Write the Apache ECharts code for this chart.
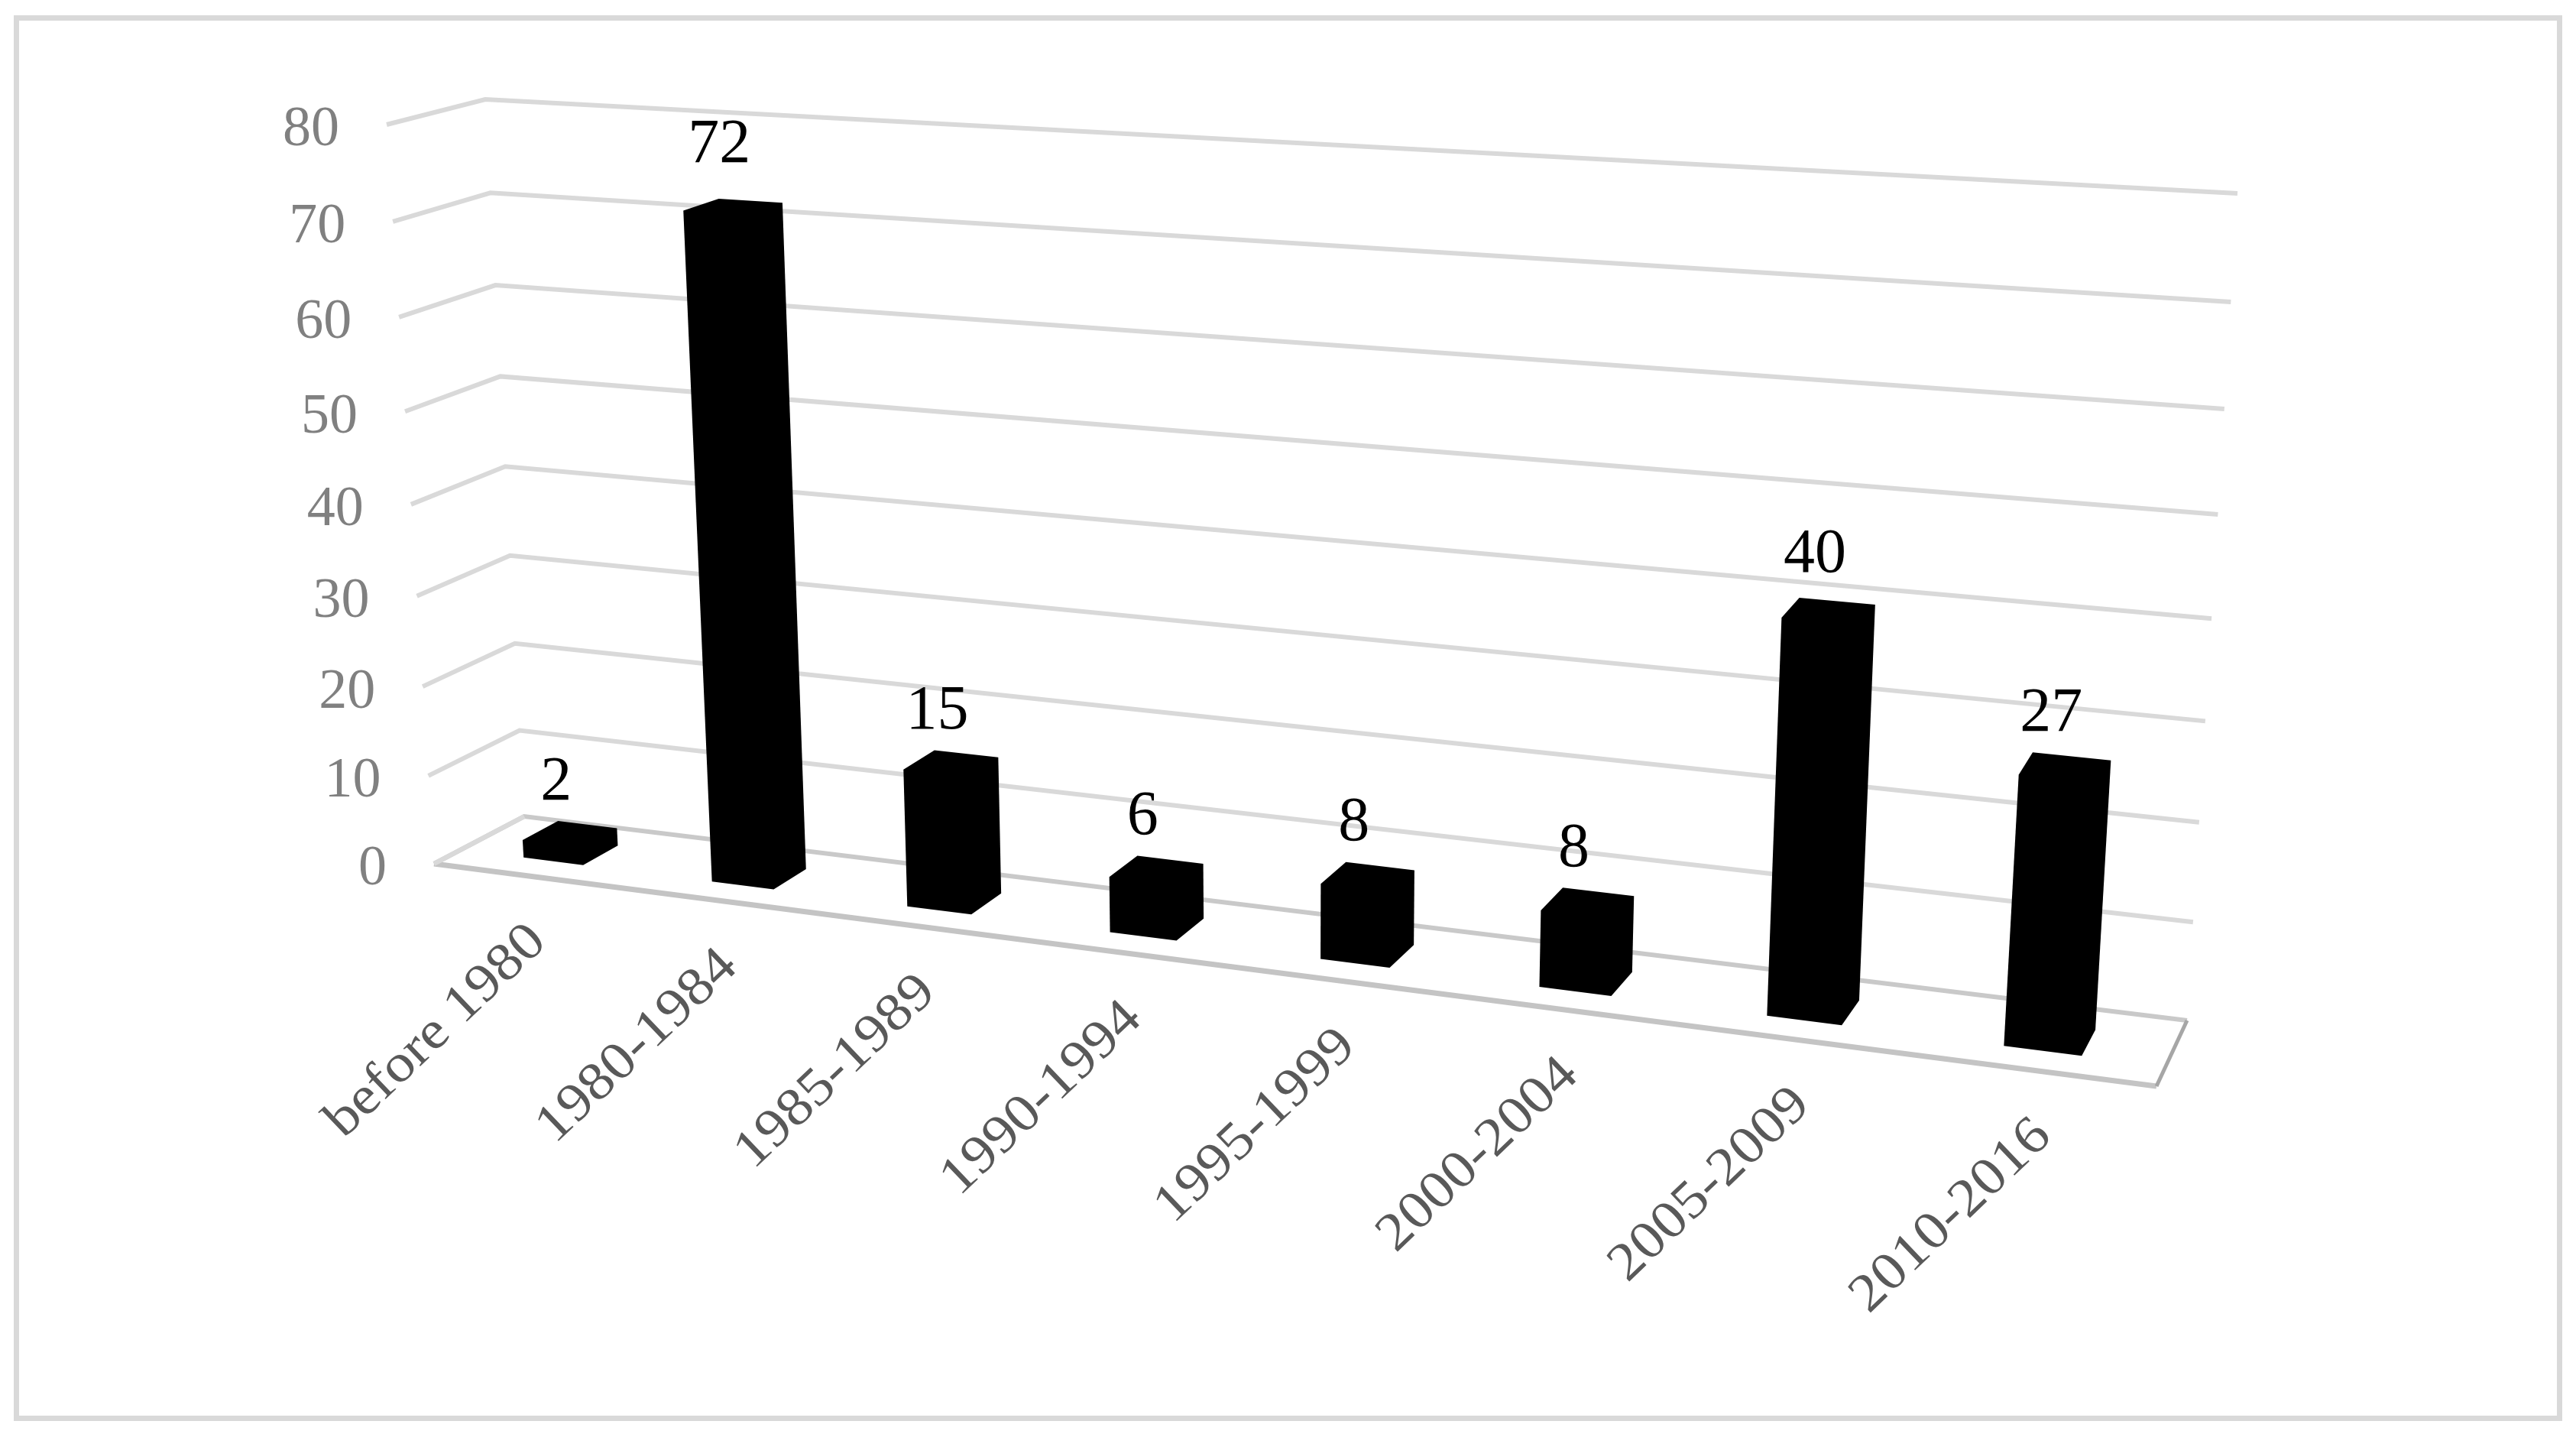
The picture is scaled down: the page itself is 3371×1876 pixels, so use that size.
<!DOCTYPE html>
<html><head><meta charset="utf-8">
<style>html,body{margin:0;padding:0;background:#fff}#c{width:3371px;height:1876px}</style>
<script src="https://cdn.jsdelivr.net/npm/echarts@6/dist/echarts.min.js"></script>
</head><body><div id="c"></div>
<script>
const categories = ['before 1980','1980-1984','1985-1989','1990-1994','1995-1999','2000-2004','2005-2009','2010-2016'];
const values = [2,72,15,6,8,8,40,27];
const yTicks = [0,10,20,30,40,50,60,70,80];

// Perspective frame of the 3D chart: plane corners in page pixels
const BACK  = {bl:[686,1068], br:[2862,1335], tl:[635,130], tr:[2928,253]};
const FRONT = {bl:[568,1130], br:[2822,1421], tl:[506,163], tr:[2900,300]};
const GRID = {left:100,top:100,width:1000,height:800};
const BAR_HALF = 0.16, D0 = 0.3, D1 = 0.7;

function homography(q){
  const [x0,y0]=q.bl,[x1,y1]=q.br,[x2,y2]=q.tr,[x3,y3]=q.tl;
  const dx1=x1-x2,dx2=x3-x2,sx=x0-x1+x2-x3,dy1=y1-y2,dy2=y3-y2,sy=y0-y1+y2-y3;
  const det=dx1*dy2-dx2*dy1;
  const g=(sx*dy2-dx2*sy)/det,h=(dx1*sy-sx*dy1)/det;
  const a=x1-x0+g*x1,b=x3-x0+h*x3,d=y1-y0+g*y1,e=y3-y0+h*y3;
  return (u,v)=>{const w=g*u+h*v+1;return [(a*u+b*v+x0)/w,(d*u+e*v+y0)/w];};
}
const hB=homography(BACK),hF=homography(FRONT);
function proj(u,v,d){const f=hF(u,v),b=hB(u,v);return [f[0]+(b[0]-f[0])*d,f[1]+(b[1]-f[1])*d];}
// library coord -> normalised plot coords
function uv(api,cat,val,off){
  const p=api.coord([cat,val]),band=api.size([1,0])[0];
  return [(p[0]+(off||0)*band-GRID.left)/GRID.width,(GRID.top+GRID.height-p[1])/GRID.height];
}
const GREY='#D9D9D9', SERIF='"Liberation Serif","Times New Roman",serif';

function renderGrid(params,api){
  const t=api.value(0);
  const [uL,v]=uv(api,0,t,-0.5),[uR]=uv(api,7,t,0.5);
  const a=proj(uL,v,0),b=proj(uL,v,1),c=proj(uR,v,1);
  const kids=[];
  const base=t===0;
  kids.push({type:'polyline',shape:{points:[a,b,c]},style:{stroke:base?'#C9C9C9':GREY,lineWidth:6,fill:null,lineJoin:'miter'}});
  if(base){
    const e=proj(uR,v,0);
    kids.push({type:'polyline',shape:{points:[a,e]},style:{stroke:'#C4C4C4',lineWidth:7,fill:null}});
    kids.push({type:'polyline',shape:{points:[e,c]},style:{stroke:'#A6A6A6',lineWidth:5,fill:null}});
    kids.push({type:'polyline',shape:{points:[a,b]},style:{stroke:GREY,lineWidth:6,fill:null}});
  }
  kids.push({type:'text',x:a[0]-62,y:a[1]+8,style:{text:String(t),font:'74px '+SERIF,fill:'#808080',align:'right',verticalAlign:'middle'}});
  return {type:'group',children:kids};
}
function renderBar(params,api){
  const i=api.value(0),val=api.value(1);
  const [ul,v0]=uv(api,i,0,-BAR_HALF),[ur,v1]=uv(api,i,val,BAR_HALF);
  const bfl=proj(ul,v0,D0),bfr=proj(ur,v0,D0),bbr=proj(ur,v0,D1),tbr=proj(ur,v1,D1),tbl=proj(ul,v1,D1),tfl=proj(ul,v1,D0);
  const mid=proj((ul+ur)/2,v1,0.5);
  return {type:'group',children:[
    {type:'polygon',shape:{points:[bfl,bfr,bbr,tbr,tbl,tfl]},style:{fill:'#000'}},
    {type:'text',x:mid[0]-18,y:tbl[1]-50-0.43*Math.max(0,val-27),style:{text:String(val),font:'82px '+SERIF,fill:'#000',align:'center',verticalAlign:'middle'}}
  ]};
}
function renderCat(params,api){
  const i=api.value(0);
  const [u,v]=uv(api,i,0,0);
  const p=proj(u,v,0);
  return {type:'text',x:p[0]+15,y:p[1]+76,rotation:Math.PI/4*0.97,scaleX:1.1,scaleY:1,
    style:{text:categories[i],font:'70px '+SERIF,fill:'#595959',align:'right',verticalAlign:'middle'}};
}
const chart=echarts.init(document.getElementById('c'),null,{renderer:'canvas'});
chart.setOption({
  animation:false,backgroundColor:'#fff',
  grid:{left:GRID.left,top:GRID.top,width:GRID.width,height:GRID.height},
  xAxis:{type:'category',data:categories,show:false},
  yAxis:{type:'value',min:0,max:80,interval:10,show:false},
  graphic:[{type:'rect',shape:{x:21.5,y:23.5,width:3328,height:1832},style:{fill:'none',stroke:GREY,lineWidth:7},silent:true}],
  series:[
    {type:'custom',renderItem:renderGrid,data:yTicks.map(t=>[t]),encode:{y:0},clip:false,z:1,silent:true},
    {type:'custom',renderItem:renderBar,data:values.map((v,i)=>[i,v]),encode:{x:0,y:1},clip:false,z:2,silent:true},
    {type:'custom',renderItem:renderCat,data:categories.map((c,i)=>[i]),encode:{x:0},clip:false,z:3,silent:true}
  ]
});
</script></body></html>
